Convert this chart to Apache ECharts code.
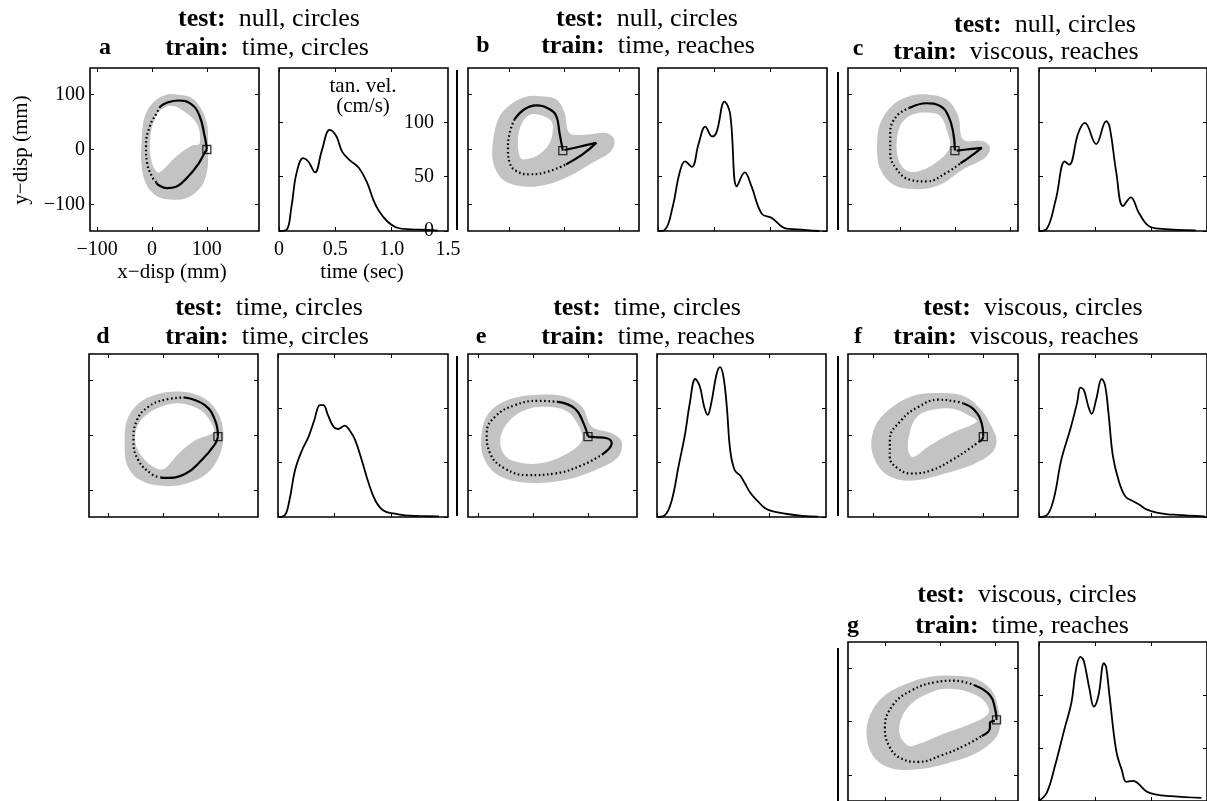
<!DOCTYPE html>
<html><head><meta charset="utf-8">
<script src="https://cdn.jsdelivr.net/npm/echarts@6/dist/echarts.min.js"></script>
<style>html,body{margin:0;padding:0;background:#fff}#c{width:1207px;height:801px}</style>
</head><body><div id="c"></div>
<script>
// ---------------- DATA ----------------
const panelLetters = ['a','b','c','d','e','f','g'];
const testLabels  = ['null, circles','null, circles','null, circles','time, circles','time, circles','viscous, circles','viscous, circles'];
const trainLabels = ['time, circles','time, reaches','viscous, reaches','time, circles','time, reaches','viscous, reaches','time, reaches'];

const trajTicks = [-100, 0, 100, 200];
const trajTickLabels = [-100, 0, 100];
const timeTicks = [0, 0.5, 1.0, 1.5];
const speedTicks = [0, 50, 100];

// hand-path segments (mm): solid / dotted / solid
const pathA1 = [[100,0],[98,14],[96,24],[87,60],[72,82],[48,89],[27,85],[15,78]];
const pathA2 = [[15,78],[9,67],[-4,42],[-11,6],[-9,-24],[0,-49],[8,-60]];
const pathA3 = [[8,-60],[11,-64],[27,-70],[45,-67],[66,-49],[84,-27],[96,-6],[100,0]];
const startA = [100,0];
const bandOuterA = [[45,100],[72,94],[90,73],[101,42],[102,6],[101,-36],[90,-67],[63,-88],[33,-91],[9,-85],[-10,-64],[-19,-30],[-19,12],[-13,61],[5,88],[27,100]];
const bandInnerA = [[48,76],[81,48],[87,11],[72,7],[45,-12],[21,-36],[11,-42],[2,-30],[-4,0],[-1,36],[11,67],[30,79]];

const pathB1 = [[97,-2],[91,30],[85,61],[73,73],[49,80],[27,73],[9,55]];
const pathB2 = [[9,55],[0,30],[-3,0],[0,-24],[12,-39],[36,-45],[67,-41],[103,-27]];
const pathB3 = [[103,-27],[133,-9],[158,12],[127,5],[100,-1]];
const startB = [97,-2];
const bandOuterB = [[49,97],[85,91],[100,67],[109,30],[139,27],[176,30],[191,18],[185,-3],[151,-24],[109,-48],[67,-64],[24,-67],[-12,-55],[-30,-24],[-30,18],[-18,61],[6,85],[30,96]];
const bandInnerB = [[49,64],[73,55],[79,42],[73,12],[49,-12],[24,-18],[18,-12],[15,18],[21,45],[33,61]];

const pathC1 = [[100,-2],[97,30],[88,61],[73,79],[48,84],[18,76]];
const pathC2 = [[18,76],[-6,61],[-18,30],[-18,-6],[-6,-36],[18,-55],[48,-58],[85,-42],[110,-25]];
const pathC3 = [[110,-25],[121,-18],[149,3],[121,0],[103,-2]];
const startC = [100,-2];
const bandOuterC = [[48,100],[85,91],[106,61],[115,18],[152,15],[164,3],[155,-15],[115,-36],[73,-64],[30,-72],[-12,-64],[-36,-36],[-42,6],[-36,48],[-12,82],[18,97]];
const bandInnerC = [[48,67],[73,61],[85,36],[91,6],[73,-18],[36,-39],[12,-38],[-3,-18],[-6,18],[3,48],[24,64]];

const pathD1 = [[100,-2],[95,27],[76,55],[40,69]];
const pathD2 = [[40,69],[4,65],[-27,52],[-48,27],[-54,-9],[-45,-45],[-21,-70],[-5,-76]];
const pathD3 = [[-5,-76],[4,-77],[40,-70],[70,-45],[95,-15],[100,-2]];
const startD = [100,-2];
const bandOuterD = [[40,79],[76,67],[101,39],[110,3],[104,-33],[82,-67],[40,-88],[-8,-91],[-45,-79],[-66,-52],[-70,-9],[-66,27],[-45,58],[-8,76]];
const bandInnerD = [[34,58],[70,45],[89,21],[92,6],[58,-9],[28,-33],[1,-61],[-21,-55],[-42,-33],[-51,-9],[-45,21],[-24,42],[4,55]];

const pathE1 = [[100,-2],[92,22],[76,49],[46,61]];
const pathE2 = [[46,61],[10,63],[-33,55],[-69,34],[-84,4],[-78,-32],[-51,-60],[-8,-72],[40,-69],[89,-54],[125,-35]];
const pathE3 = [[125,-35],[143,-14],[134,-5],[113,-3],[100,-2]];
const startE = [100,-2];
const bandOuterE = [[10,74],[58,71],[89,52],[107,16],[143,4],[161,-11],[155,-39],[113,-63],[58,-81],[-8,-86],[-63,-72],[-90,-39],[-93,4],[-81,40],[-45,65]];
const bandInnerE = [[16,52],[58,46],[79,25],[89,-8],[58,-35],[10,-51],[-39,-45],[-57,-26],[-57,4],[-39,31],[-15,46]];

const pathF1 = [[101,-2],[98,22],[85,46],[65,58]];
const pathF2 = [[65,58],[55,61],[19,65],[-17,52],[-48,28],[-69,-8],[-69,-39],[-54,-60],[-30,-69],[7,-63],[43,-45],[73,-26],[92,-12]];
const pathF3 = [[92,-12],[98,-8],[101,-2]];
const startF = [101,-2];
const bandOuterF = [[19,77],[67,71],[98,46],[113,22],[125,-8],[116,-32],[79,-54],[31,-69],[-17,-81],[-54,-80],[-84,-63],[-102,-26],[-96,16],[-72,46],[-30,71]];
const bandInnerF = [[-5,43],[43,49],[79,34],[89,25],[43,4],[1,-20],[-27,-39],[-36,-26],[-33,4],[-24,28]];

const pathG1 = [[103,3],[100,25],[91,49],[64,67]];
const pathG2 = [[64,67],[27,76],[-9,73],[-51,58],[-85,31],[-100,-12],[-91,-48],[-70,-69],[-39,-75],[3,-63],[45,-45],[76,-27]];
const pathG3 = [[76,-27],[91,-12],[91,-3],[100,1]];
const startG = [103,3];
const bandOuterG = [[21,85],[64,80],[94,58],[106,25],[109,-12],[97,-36],[64,-60],[9,-79],[-39,-89],[-85,-88],[-118,-69],[-133,-30],[-127,12],[-100,49],[-51,74],[-15,84]];
const bandInnerG = [[9,61],[52,55],[82,37],[88,15],[52,-6],[3,-24],[-39,-42],[-57,-45],[-73,-24],[-70,6],[-51,34],[-21,52]];

// tangential velocity (time s, cm/s)
const velA = [[0,0],[0.066,1],[0.11,22],[0.155,53],[0.215,67],[0.26,64],[0.32,54],[0.38,74],[0.45,93],[0.51,87],[0.56,73],[0.63,65],[0.71,58],[0.78,45],[0.84,28],[0.89,18],[0.96,9],[1.05,3],[1.17,1.5],[1.32,1],[1.41,0.3]];
const velB = [[0,0],[0.06,1],[0.13,22],[0.19,53],[0.24,64],[0.30,59],[0.36,80],[0.42,96],[0.48,87],[0.52,91],[0.59,119],[0.64,108],[0.70,41],[0.77,54],[0.83,41],[0.92,16],[1.01,12],[1.13,2.5],[1.23,1.5],[1.43,0]];
const velC = [[0,0],[0.065,1.5],[0.15,29],[0.23,64],[0.27,61],[0.35,90],[0.41,99.5],[0.51,80],[0.60,101],[0.63,96],[0.69,54],[0.75,23],[0.82,31],[0.89,17],[0.98,4.6],[1.10,2],[1.40,0.6]];
const velD = [[0,0],[0.059,1.5],[0.10,15],[0.15,43],[0.21,61],[0.27,74],[0.32,89],[0.37,103],[0.40,103],[0.44,94],[0.49,83],[0.53,81],[0.59,84],[0.63,80],[0.68,71],[0.74,52],[0.80,31],[0.86,15],[0.93,6],[1.03,3],[1.12,1.5],[1.24,1],[1.42,0.6]];
const velE = [[0,0],[0.068,1.5],[0.13,15],[0.19,46],[0.25,77],[0.29,104],[0.34,127],[0.38,120],[0.42,101],[0.45,94],[0.48,104],[0.53,132],[0.56,138],[0.59,129],[0.62,101],[0.65,61],[0.69,43],[0.74,38],[0.78,31],[0.83,22],[0.89,15],[0.96,8],[1.02,5.5],[1.14,3],[1.29,1],[1.43,0.3]];
const velF = [[0,0],[0.068,1.5],[0.13,16],[0.20,53],[0.28,81],[0.34,105],[0.37,119],[0.40,117],[0.44,102],[0.47,95],[0.51,108],[0.56,127],[0.59,121],[0.62,96],[0.66,56],[0.71,34],[0.77,19],[0.84,14.5],[0.90,11],[0.96,7],[1.05,4],[1.15,2.5],[1.24,2],[1.33,1.2],[1.48,0.6]];
const velG = [[0,0],[0.07,8],[0.14,32],[0.23,69],[0.29,93],[0.33,124],[0.37,136],[0.40,132],[0.45,106],[0.49,89],[0.53,99],[0.58,130],[0.60,126],[0.63,99],[0.69,47],[0.74,29],[0.78,18],[0.84,19],[0.88,17],[0.96,9],[1.05,6],[1.18,4.6],[1.30,3.7],[1.45,3]];

// ---------------- LAYOUT ----------------
const SERIF = '"Liberation Serif", "Times New Roman", serif';
const panels = [
  {traj:[90,68,169,163],  vel:[279,68,169,163],  xr:[-113,195], paths:[pathA1,pathA2,pathA3], start:startA, outer:bandOuterA, inner:bandInnerA, v:velA, labels:true,
   title:[269,19,267,48,105,48]},
  {traj:[468,68,171,163], vel:[658,68,169,163],  xr:[-76,236],  paths:[pathB1,pathB2,pathB3], start:startB, outer:bandOuterB, inner:bandInnerB, v:velB,
   title:[647,19,648,46,483,46]},
  {traj:[848,68,170,163], vel:[1039,68,169,163], xr:[-95,215],  paths:[pathC1,pathC2,pathC3], start:startC, outer:bandOuterC, inner:bandInnerC, v:velC,
   title:[1045,25,1016,52,858,49]},
  {traj:[89,354,169,163], vel:[278,354,170,163], xr:[-135,173], paths:[pathD1,pathD2,pathD3], start:startD, outer:bandOuterD, inner:bandInnerD, v:velD,
   title:[269,308,267,337,103,337]},
  {traj:[468,354,169,163],vel:[657,354,169,163], xr:[-118,189], paths:[pathE1,pathE2,pathE3], start:startE, outer:bandOuterE, inner:bandInnerE, v:velE,
   title:[647,308,648,337,481,337]},
  {traj:[848,354,170,163],vel:[1039,354,169,163],xr:[-145,164], paths:[pathF1,pathF2,pathF3], start:startF, outer:bandOuterF, inner:bandInnerF, v:velF,
   title:[1033,308,1016,337,858,337]},
  {traj:[848,642,170,163],vel:[1039,642,169,163],xr:[-167,142], paths:[pathG1,pathG2,pathG3], start:startG, outer:bandOuterG, inner:bandInnerG, v:velG,
   title:[1027,595,1022,626,853,626]}
];

const grids = [], xAxes = [], yAxes = [], series = [], graphics = [];
const minus = v => String(v).replace('-', '\u2212');
const tick = vals => ({show:true, inside:true, length:4, lineStyle:{color:'#000', width:1}, customValues:vals});

function addGrid(box, xr, yr, tx, ty, xLab, yLab, yLabRight) {
  const gi = grids.length;
  grids.push({left:box[0], top:box[1], width:box[2], height:box[3], show:true, borderColor:'#000', borderWidth:1.6, backgroundColor:'#fff'});
  const xi = xAxes.length, yi = yAxes.length;
  const base = {type:'value', gridIndex:gi, splitLine:{show:false}, axisLine:{show:false, onZero:false}};
  const txIn = tx.filter(v => v >= xr[0] && v <= xr[1]);
  const tyIn = ty.filter(v => v >= yr[0] && v <= yr[1]);
  xAxes.push({...base, min:xr[0], max:xr[1], position:'bottom', axisTick:tick(txIn), axisLabel: xLab || {show:false}});
  xAxes.push({...base, min:xr[0], max:xr[1], position:'top', axisTick:tick(txIn), axisLabel:{show:false}});
  yAxes.push({...base, min:yr[0], max:yr[1], position:'left', axisTick:tick(tyIn), axisLabel: yLab || {show:false}});
  yAxes.push({...base, min:yr[0], max:yr[1], position:'right', axisTick:tick(tyIn), axisLabel: yLabRight || {show:false}});
  return {xi, yi};
}

const labFont = {fontFamily:SERIF, fontSize:20, color:'#000'};
const TITLE = 26;

panels.forEach((p, k) => {
  // trajectory panel
  const t = addGrid(p.traj, p.xr, [-148,148], trajTicks, [-100,0,100],
    p.labels ? {show:true, ...labFont, margin:9, customValues:trajTickLabels, formatter:minus} : null,
    p.labels ? {show:true, ...labFont, margin:5, customValues:trajTickLabels, formatter:minus} : null, null);
  const outer = p.outer, inner = p.inner;
  series.push({type:'custom', xAxisIndex:t.xi, yAxisIndex:t.yi, data:[[0,0]], silent:true, clip:true, z:1,
    renderItem:(params, api) => ({type:'group', children:[
      {type:'polygon', shape:{points: outer.map(q => api.coord(q)), smooth:0.35}, style:{fill:'#c3c3c3'}},
      {type:'polygon', shape:{points: inner.map(q => api.coord(q)), smooth:0.35}, style:{fill:'#ffffff'}}
    ]})});
  p.paths.forEach((seg, si) => {
    series.push({type:'line', xAxisIndex:t.xi, yAxisIndex:t.yi, data:seg, smooth:0.45, showSymbol:false, silent:true, z:3,
      lineStyle: si === 1 ? {color:'#000', width:2.2, type:[1.6,2.6]} : {color:'#000', width:2.2}});
  });
  series.push({type:'scatter', xAxisIndex:t.xi, yAxisIndex:t.yi, data:[p.start], symbol:'rect', symbolSize:8, silent:true, z:4,
    itemStyle:{color:'rgba(255,255,255,0)', borderColor:'#000', borderWidth:1.3}});

  // velocity panel
  const v = addGrid(p.vel, [0,1.5], [0,150], [0,0.5,1.0], speedTicks,
    p.labels ? {show:true, ...labFont, margin:9, customValues:timeTicks, showMaxLabel:true,
                formatter: val => val === 0 ? '0' : Number(val).toFixed(1)} : null,
    null,
    p.labels ? {show:true, ...labFont, inside:true, margin:14, customValues:speedTicks} : null);
  series.push({type:'line', xAxisIndex:v.xi, yAxisIndex:v.yi, data:p.v, smooth:0.4, showSymbol:false, silent:true,
    lineStyle:{color:'#000', width:1.8}});

  // titles
  const tt = p.title;
  graphics.push({type:'text', x:tt[0], y:tt[1], silent:true, style:{text:'{b|test:}  ' + testLabels[k], fontFamily:SERIF, fontSize:TITLE, fill:'#000', align:'center', verticalAlign:'middle',
    rich:{b:{fontFamily:SERIF, fontSize:TITLE, fontWeight:'bold', fill:'#000'}}}});
  graphics.push({type:'text', x:tt[2], y:tt[3], silent:true, style:{text:'{b|train:}  ' + trainLabels[k], fontFamily:SERIF, fontSize:TITLE, fill:'#000', align:'center', verticalAlign:'middle',
    rich:{b:{fontFamily:SERIF, fontSize:TITLE, fontWeight:'bold', fill:'#000'}}}});
  graphics.push({type:'text', x:tt[4], y:tt[5], silent:true, style:{text:panelLetters[k], fontFamily:SERIF, fontSize:24, fontWeight:'bold', fill:'#000', align:'center', verticalAlign:'middle'}});
});

// axis names & annotations for panel a
graphics.push({type:'text', x:172, y:272, silent:true, style:{text:'x\u2212disp (mm)', fontFamily:SERIF, fontSize:21, fill:'#000', align:'center', verticalAlign:'middle'}});
graphics.push({type:'text', x:362, y:272, silent:true, style:{text:'time (sec)', fontFamily:SERIF, fontSize:21, fill:'#000', align:'center', verticalAlign:'middle'}});
graphics.push({type:'text', x:21, y:150, rotation:Math.PI/2, silent:true, style:{text:'y\u2212disp (mm)', fontFamily:SERIF, fontSize:21, fill:'#000', align:'center', verticalAlign:'middle'}});
graphics.push({type:'text', x:363, y:86, silent:true, style:{text:'tan. vel.', fontFamily:SERIF, fontSize:21, fill:'#000', align:'center', verticalAlign:'middle'}});
graphics.push({type:'text', x:363, y:106, silent:true, style:{text:'(cm/s)', fontFamily:SERIF, fontSize:21, fill:'#000', align:'center', verticalAlign:'middle'}});

// separators
[[457,70,230],[457,356,516],[838,72,230],[838,356,516],[838,648,801]].forEach(s => {
  graphics.push({type:'line', silent:true, shape:{x1:s[0], y1:s[1], x2:s[0], y2:s[2]}, style:{stroke:'#000', lineWidth:2}});
});

const chart = echarts.init(document.getElementById('c'), null, {renderer:'canvas'});
chart.setOption({animation:false, backgroundColor:'#fff', grid:grids, xAxis:xAxes, yAxis:yAxes, series:series, graphic:graphics});
</script></body></html>
